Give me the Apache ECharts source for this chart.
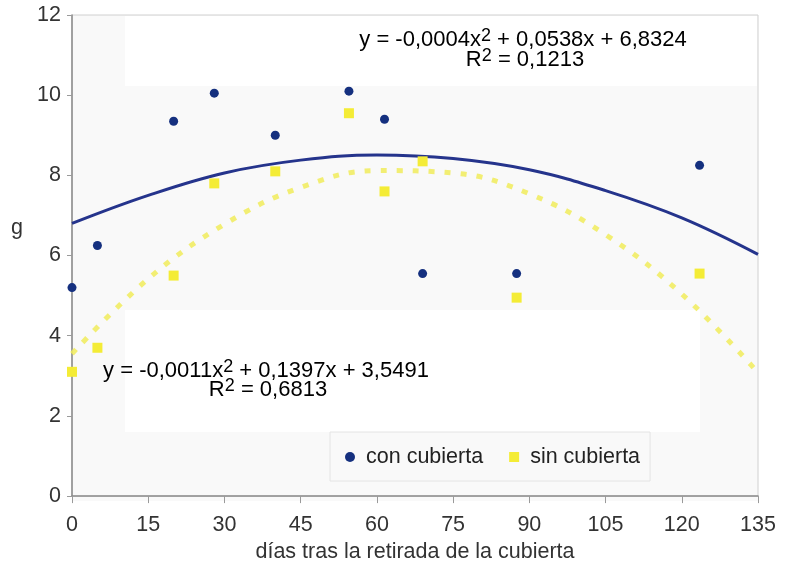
<!DOCTYPE html>
<html>
<head>
<meta charset="utf-8">
<script src="https://cdn.jsdelivr.net/npm/echarts@6/dist/echarts.min.js"></script>
<style>
html,body{margin:0;padding:0;background:#fff;}
#chart{width:792px;height:568px;}
</style>
</head>
<body>
<div id="chart"></div>
<script>
// ---- data ----
const days = [0, 5, 20, 28, 40, 54.5, 61.5, 69, 87.5, 123.5];
const conCubierta = [5.2, 6.25, 9.35, 10.05, 9.0, 10.1, 9.4, 5.55, 5.55, 8.25];
const sinCubierta = [3.1, 3.7, 5.5, 7.8, 8.1, 9.55, 7.6, 8.35, 4.95, 5.55];
const trendX = [0, 15, 30, 45, 60, 75, 90, 105, 120, 135];
const trendCon = [6.80, 7.50, 8.06, 8.38, 8.51, 8.42, 8.14, 7.62, 6.94, 6.03];
const trendSin = [3.55, 5.42, 6.78, 7.70, 8.12, 8.06, 7.54, 6.52, 5.04, 3.08];
const xTicks = [0, 15, 30, 45, 60, 75, 90, 105, 120, 135];
const yTicks = [0, 2, 4, 6, 8, 10, 12];
const seriesNames = ['con cubierta', 'sin cubierta'];
const xTitle = 'días tras la retirada de la cubierta';
const yTitle = 'g';

const FONT = 'Liberation Sans, Arial, Helvetica, sans-serif';
const FS = 21.5;
const pair = (xs, ys) => xs.map((x, i) => [x, ys[i]]);

const chart = echarts.init(document.getElementById('chart'), null, {renderer: 'canvas'});

const GL = 72, GR = 758, GT = 15, GB = 501;

const rich = {
  n: {fontSize: 22, fontFamily: FONT, color: '#222', lineHeight: 24, verticalAlign: 'bottom'},
  s: {fontSize: 18, fontFamily: FONT, color: '#222', lineHeight: 19, verticalAlign: 'top', padding: [0, 0, 12, 0]}
};

const option = {
  animation: false,
  backgroundColor: '#ffffff',
  grid: {left: GL, right: 792 - GR, top: GT, bottom: 568 - GB, show: true,
         borderColor: '#d0d0d0', borderWidth: 1, backgroundColor: 'transparent'},
  xAxis: {
    type: 'value', min: 0, max: 135, interval: 15,
    name: xTitle, nameLocation: 'middle', nameGap: 44,
    nameTextStyle: {fontSize: FS, fontFamily: FONT, color: '#333'},
    axisLine: {show: true, onZero: false, lineStyle: {color: '#8a8a8a', width: 1.5}},
    axisTick: {show: true, length: 7, lineStyle: {color: '#9a9a9a'}},
    axisLabel: {fontSize: FS, fontFamily: FONT, color: '#333', margin: 18,
                formatter: v => xTicks.includes(v) ? String(v) : ''},
    splitLine: {show: false}
  },
  yAxis: {
    type: 'value', min: 0, max: 12, interval: 2,
    axisLine: {show: true, onZero: false, lineStyle: {color: '#8a8a8a', width: 1.5}},
    axisTick: {show: true, length: 5, lineStyle: {color: '#9a9a9a'}},
    axisLabel: {fontSize: FS, fontFamily: FONT, color: '#333', margin: 11,
                formatter: v => yTicks.includes(v) ? String(v) : ''},
    splitLine: {show: false}
  },
  legend: {
    data: [
      {name: seriesNames[0], icon: 'circle'},
      {name: seriesNames[1], icon: 'rect'}
    ],
    left: 330, top: 432, orient: 'horizontal',
    itemWidth: 10, itemHeight: 10, itemGap: 26,
    padding: [13, 10, 12, 15],
    borderColor: '#e4e4e4', borderWidth: 1,
    textStyle: {fontSize: FS, fontFamily: FONT, color: '#222', lineHeight: 24, padding: [0, 0, 0, 6]}
  },
  graphic: [
    {type: 'rect', z: -10, silent: true, shape: {x: GL, y: GT, width: GR - GL, height: GB - GT}, style: {fill: '#f9f9f9'}},
    {type: 'rect', z: -9, silent: true, shape: {x: 125, y: GT + 1, width: GR - 126, height: 70}, style: {fill: '#ffffff'}},
    {type: 'rect', z: -9, silent: true, shape: {x: 125, y: 310, width: 575, height: 122}, style: {fill: '#ffffff'}},
    {type: 'text', z: 50, left: 11, top: 217, style: {text: yTitle, font: FS + 'px ' + FONT, fill: '#333'}},
    {type: 'text', z: 50, x: 523, y: 27, style: {
      text: '{n|y = -0,0004x}{s|2}{n| + 0,0538x + 6,8324}', rich: rich,
      textAlign: 'center', textVerticalAlign: 'top'}},
    {type: 'text', z: 50, x: 525, y: 47, style: {
      text: '{n|R}{s|2}{n| = 0,1213}', rich: rich,
      textAlign: 'center', textVerticalAlign: 'top'}},
    {type: 'text', z: 50, x: 266, y: 358, style: {
      text: '{n|y = -0,0011x}{s|2}{n| + 0,1397x + 3,5491}', rich: rich,
      textAlign: 'center', textVerticalAlign: 'top'}},
    {type: 'text', z: 50, x: 268, y: 377, style: {
      text: '{n|R}{s|2}{n| = 0,6813}', rich: rich,
      textAlign: 'center', textVerticalAlign: 'top'}}
  ],
  series: [
    {
      name: 'trend sin', type: 'line', data: pair(trendX, trendSin), smooth: 0.4,
      showSymbol: false, silent: true, z: 2,
      lineStyle: {color: '#f1ec5c', width: 5, type: [6, 10], cap: 'butt', opacity: 0.85}
    },
    {
      name: 'trend con', type: 'line', data: pair(trendX, trendCon), smooth: 0.4,
      showSymbol: false, silent: true, z: 3,
      lineStyle: {color: '#25348c', width: 3}
    },
    {
      name: seriesNames[0], type: 'scatter', data: pair(days, conCubierta),
      symbol: 'circle', symbolSize: 9, z: 4,
      itemStyle: {color: '#15307f', opacity: 1}
    },
    {
      name: seriesNames[1], type: 'scatter', data: pair(days, sinCubierta),
      symbol: 'rect', symbolSize: 10, z: 5,
      itemStyle: {color: '#f4ec36', opacity: 1}
    }
  ]
};
chart.setOption(option);
</script>
</body>
</html>
